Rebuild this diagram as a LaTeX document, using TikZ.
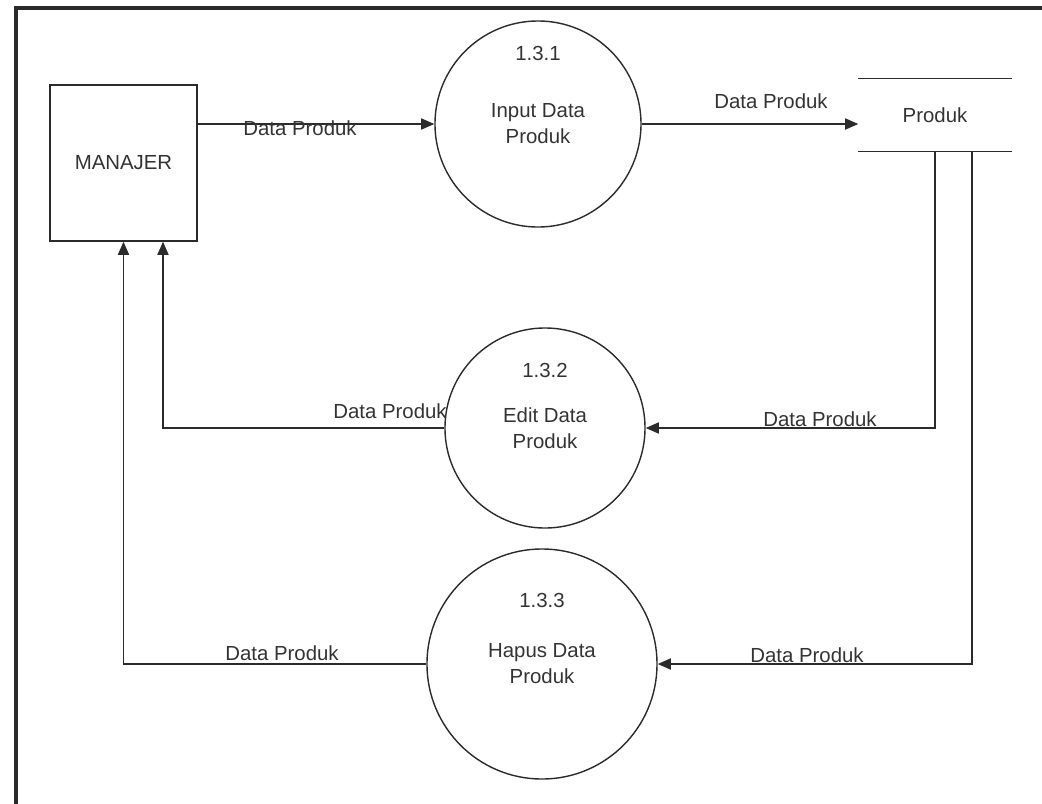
\documentclass[tikz,border=0pt]{standalone}
\usepackage{fontspec}
\setmainfont{Liberation Sans}
\usetikzlibrary{arrows.meta, positioning, calc}
\definecolor{dfdLine}{HTML}{2B2B2B}
\definecolor{dfdText}{HTML}{333333}

\begin{document}
\begin{tikzpicture}[x=0.025cm, y=-0.025cm, line width=1pt,
      every node/.style={font=\fontsize{14.5}{18.5}\selectfont, text=dfdText},
      ext/.style={draw=dfdLine, minimum width=3.675cm, minimum height=3.9cm, inner sep=0pt},
      proc/.style={draw=dfdLine, circle, inner sep=0pt, align=center},
      store/.style={minimum width=3.8cm, minimum height=1.8cm, inner sep=0pt},
      flow/.style={draw=dfdLine, -{Triangle[length=0.33cm, width=0.28cm]}}]
    \useasboundingbox (0,0) rectangle (1042,804);
    \draw[dfdLine, line width=2.2pt] (1042,8) -- (16,8) -- (16,804);

    % entities and processes
    \node[ext] (manajer) at (123.5,163) {MANAJER};
    \node[proc, minimum size=5.15cm] (p1) at (538,124) {Input Data\\Produk};
    \node[proc, minimum size=5cm]    (p2) at (545,428) {Edit Data\\Produk};
    \node[proc, minimum size=5.75cm] (p3) at (542,664) {Hapus Data\\Produk};
    \node (n1) at ($(p1)+(0,-71)$) {1.3.1};
    \node (n2) at ($(p2)+(0,-58)$) {1.3.2};
    \node (n3) at ($(p3)+(0,-64)$) {1.3.3};

    % data store
    \node[store] (produk) at (935,115) {Produk};
    \draw[dfdLine] (produk.north west) -- (produk.north east);
    \draw[dfdLine] (produk.south west) -- (produk.south east);
    \coordinate (s2) at ($(produk.south)+(37,0)$);
    \coordinate (m2) at ($(manajer.south)+(39.5,0)$);

    % flows
    \draw[flow] (manajer.east |- p1) -- (p1.west);
    \draw[flow] (p1.east) -- (p1 -| produk.west);
    \draw[flow] (produk.south) |- (p2.east);
    \draw[flow] (s2) |- (p3.east);
    \draw[flow] (p2.west) -| (m2);
    \draw[flow] (p3.west) -| (manajer.south);

    \node (l1) at (300,128) {Data Produk};
    \node (l2) at (771,101) {Data Produk};
    \node (l3) at (390,411) {Data Produk};
    \node (l4) at (820,419) {Data Produk};
    \node (l5) at (282,653) {Data Produk};
    \node (l6) at (807,655) {Data Produk};
  \end{tikzpicture}
\end{document}
